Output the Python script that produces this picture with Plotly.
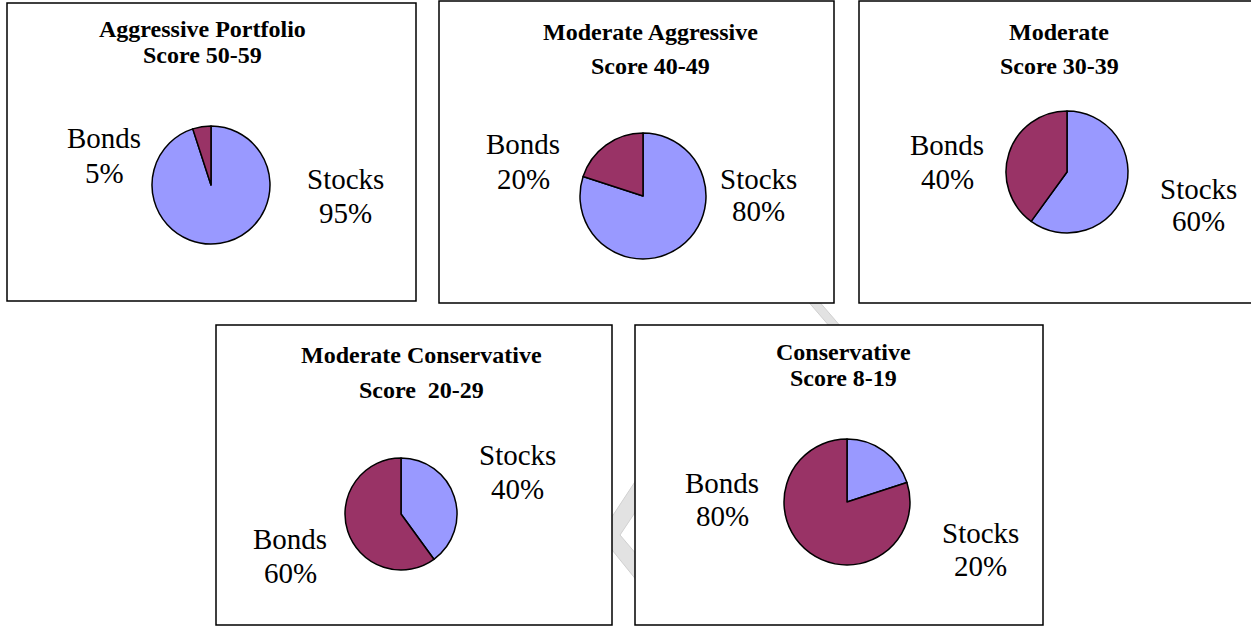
import plotly.graph_objects as go

W, H = 1251, 627

titles = [
    ["Aggressive Portfolio", "Score 50-59"],
    ["Moderate Aggressive", "Score 40-49"],
    ["Moderate", "Score 30-39"],
    ["Moderate Conservative", "Score  20-29"],
    ["Conservative", "Score 8-19"],
]
categories = ["Stocks", "Bonds"]
stocks_pct = [95, 80, 60, 40, 20]
bonds_pct = [5, 20, 40, 60, 80]
colors = ["#9999FF", "#993366"]

# layout (pixels)
boxes = [(7, 3, 416, 301), (439, 1, 834, 303), (859, 1, 1256, 303),
         (216, 325, 612, 625), (635, 325, 1043, 625)]
pies = [(211, 185, 59), (643, 196, 63), (1067, 172, 61), (401, 514, 56), (847, 502, 63)]
title_pos = [(202, 37, 63), (650, 40, 74), (1059, 40, 74), (421, 363, 398), (843, 360, 386)]
bond_lbl = [(104, 147, 182), (523, 153, 188), (947, 154, 188), (290, 548, 582), (722, 492, 525)]
stock_lbl = [(345, 188, 222), (758, 188, 220), (1198, 198, 230), (517, 464, 498), (980, 542, 575)]

def px(x):
    return x / W

def py(y):
    return 1 - y / H

fig = go.Figure()
shapes = []
annotations = []

SERIF = "Liberation Serif, Times New Roman, serif"

def add_text(x, baseline, text, size, bold=False):
    yc = baseline - 0.32 * size
    annotations.append(dict(
        x=px(x), y=py(yc), xref="paper", yref="paper", xanchor="center", yanchor="middle",
        text=f"<b>{text}</b>" if bold else text, showarrow=False,
        font=dict(family=SERIF, size=size, color="#000000")))

# faint watermark fragments visible between the boxes
def poly(points):
    return "M " + " L ".join(f"{px(x)},{py(y)}" for x, y in points) + " Z"

for pts in ([(600, 535), (648, 462), (662, 472), (620, 535), (660, 582), (646, 592)],
            [(800, 292), (811, 292), (848, 335), (837, 335)]):
    shapes.append(dict(type="path", xref="paper", yref="paper", path=poly(pts),
                       fillcolor="#e2e2e2", line=dict(color="#d0d0d0", width=1), layer="below"))

for i in range(5):
    x0, y0, x1, y1 = boxes[i]
    shapes.append(dict(type="rect", xref="paper", yref="paper",
                       x0=px(x0), x1=px(x1), y0=py(y1), y1=py(y0),
                       line=dict(color="#000000", width=1.5), fillcolor="#ffffff", layer="below"))
    cx, cy, r = pies[i]
    fig.add_trace(go.Pie(
        labels=categories, values=[stocks_pct[i], bonds_pct[i]], sort=False,
        direction="clockwise", rotation=0, textinfo="none", hoverinfo="label+percent",
        marker=dict(colors=colors, line=dict(color="#000000", width=1.5)),
        domain=dict(x=[px(cx - r), px(cx + r)], y=[py(cy + r), py(cy - r)]),
        showlegend=False))
    tx, b1, b2 = title_pos[i]
    add_text(tx, b1, titles[i][0], 24, bold=True)
    add_text(tx, b2, titles[i][1], 24, bold=True)
    bx, bb1, bb2 = bond_lbl[i]
    add_text(bx, bb1, categories[1], 29)
    add_text(bx, bb2, f"{bonds_pct[i]}%", 29)
    sx, sb1, sb2 = stock_lbl[i]
    add_text(sx, sb1, categories[0], 29)
    add_text(sx, sb2, f"{stocks_pct[i]}%", 29)

fig.update_layout(width=W, height=H, margin=dict(l=0, r=0, t=0, b=0),
                  paper_bgcolor="white", plot_bgcolor="white",
                  shapes=shapes, annotations=annotations, showlegend=False)
fig.write_html("out.html")
